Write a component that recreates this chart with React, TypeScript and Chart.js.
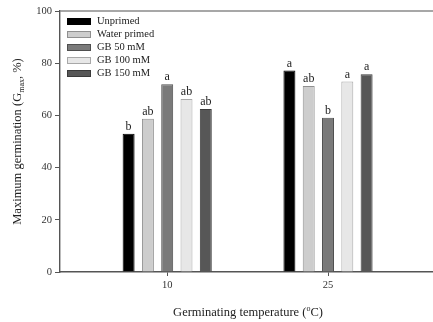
import React, { useEffect, useRef } from "react";
import { Chart, registerables } from "chart.js";

Chart.register(...registerables);

const temperatures = [10, 25];
const seriesNames = ["Unprimed", "Water primed", "GB 50 mM", "GB 100 mM", "GB 150 mM"];
const unprimed = [53.0, 77.2];
const waterPrimed = [58.7, 71.3];
const gb50 = [71.9, 59.1];
const gb100 = [66.3, 73.0];
const gb150 = [62.5, 75.8];
const lettersUnprimed = ["b", "a"];
const lettersWater = ["ab", "ab"];
const lettersGb50 = ["a", "b"];
const lettersGb100 = ["ab", "a"];
const lettersGb150 = ["ab", "a"];
const yTicks = [0, 20, 40, 60, 80, 100];

const fills = ["#000000", "#cdcdcd", "#7a7a7a", "#e7e7e7", "#575757"];
const borders = ["#000000", "#8f8f8f", "#4f4f4f", "#a8a8a8", "#3a3a3a"];
const FONT = '"Liberation Serif", "Times New Roman", serif';

const allValues = [unprimed, waterPrimed, gb50, gb100, gb150];
const allLetters = [lettersUnprimed, lettersWater, lettersGb50, lettersGb100, lettersGb150];

const decorPlugin = {
  id: "decor",
  beforeDatasetsDraw(chart: any) {
    const { ctx, chartArea } = chart;
    ctx.save();
    ctx.strokeStyle = "#8a8a8a";
    ctx.lineWidth = 1.6;
    ctx.beginPath();
    ctx.moveTo(chartArea.left, chartArea.top);
    ctx.lineTo(chart.width, chartArea.top);
    ctx.stroke();
    ctx.restore();
  },
  afterDatasetsDraw(chart: any) {
    const { ctx, chartArea } = chart;
    ctx.save();
    // letters above bars
    ctx.fillStyle = "#222";
    ctx.font = `12px ${FONT}`;
    ctx.textAlign = "center";
    ctx.textBaseline = "bottom";
    chart.data.datasets.forEach((ds: any, di: number) => {
      const meta = chart.getDatasetMeta(di);
      meta.data.forEach((el: any, i: number) => {
        ctx.fillText(allLetters[di][i], el.x, el.y - 1);
      });
    });
    // legend
    const lx = chartArea.left + 7;
    let ly = chartArea.top + 7;
    ctx.textAlign = "left";
    ctx.textBaseline = "middle";
    ctx.font = `10.5px ${FONT}`;
    seriesNames.forEach((name, i) => {
      ctx.fillStyle = fills[i];
      ctx.fillRect(lx, ly, 24, 7);
      ctx.strokeStyle = borders[i];
      ctx.lineWidth = 1;
      ctx.strokeRect(lx + 0.5, ly + 0.5, 23, 6);
      ctx.fillStyle = "#222";
      ctx.fillText(name, lx + 30, ly + 3.5);
      ly += 13;
    });
    // x title
    ctx.textBaseline = "alphabetic";
    const xa = "Germinating temperature (";
    const xb = "o";
    const xc = "C)";
    ctx.font = `12.5px ${FONT}`;
    const wa = ctx.measureText(xa).width;
    const wc = ctx.measureText(xc).width;
    ctx.font = `8px ${FONT}`;
    const wb = ctx.measureText(xb).width;
    const total = wa + wb + wc;
    let cx = (chartArea.left + chartArea.right) / 2 - total / 2 + 2;
    const by = 316;
    ctx.font = `12.5px ${FONT}`;
    ctx.fillText(xa, cx, by);
    cx += wa;
    ctx.font = `8px ${FONT}`;
    ctx.fillText(xb, cx, by - 5);
    cx += wb;
    ctx.font = `12.5px ${FONT}`;
    ctx.fillText(xc, cx, by);
    // y title
    ctx.translate(21, (chartArea.top + chartArea.bottom) / 2);
    ctx.rotate(-Math.PI / 2);
    const ya = "Maximum germination (G";
    const yb = "max";
    const yc = ", %)";
    ctx.font = `12.5px ${FONT}`;
    const wya = ctx.measureText(ya).width;
    const wyc = ctx.measureText(yc).width;
    ctx.font = `8px ${FONT}`;
    const wyb = ctx.measureText(yb).width;
    let tx = -(wya + wyb + wyc) / 2;
    ctx.font = `12.5px ${FONT}`;
    ctx.fillText(ya, tx, 0);
    tx += wya;
    ctx.font = `8px ${FONT}`;
    ctx.fillText(yb, tx, 3);
    tx += wyb;
    ctx.font = `12.5px ${FONT}`;
    ctx.fillText(yc, tx, 0);
    ctx.restore();
  },
};

export default function App() {
  const ref = useRef<HTMLCanvasElement | null>(null);
  useEffect(() => {
    if (!ref.current) return;
    const chart = new Chart(ref.current, {
      type: "bar",
      data: {
        datasets: seriesNames.map((name, i) => ({
          label: name,
          data: temperatures.map((t, j) => ({ x: t, y: allValues[i][j] })),
          backgroundColor: fills[i],
          borderColor: borders[i],
          borderWidth: 1,
          categoryPercentage: 0.6,
          barPercentage: 0.62,
        })),
      },
      options: {
        animation: false,
        responsive: false,
        devicePixelRatio: 1,
        layout: { padding: { top: 11, right: 1, left: 0, bottom: 0 } },
        plugins: { legend: { display: false }, tooltip: { enabled: false } },
        scales: {
          x: {
            type: "linear",
            min: 0,
            max: 34.7,
            offset: false,
            afterBuildTicks: (s: any) => {
              s.ticks = temperatures.map((v) => ({ value: v }));
            },
            afterFit: (s: any) => {
              s.height = 50;
            },
            grid: { display: true, drawOnChartArea: false, drawTicks: true, tickLength: 4, color: "#555", offset: false },
            border: { display: true, color: "#555", width: 1.4 },
            ticks: {
              color: "#333",
              font: { family: FONT, size: 10.5 },
              padding: 3,
              maxRotation: 0,
              callback: (v: any) => String(v),
            },
          },
          y: {
            type: "linear",
            min: 0,
            max: 100,
            afterBuildTicks: (s: any) => {
              s.ticks = yTicks.map((v) => ({ value: v }));
            },
            afterFit: (s: any) => {
              s.width = 60;
            },
            grid: { display: true, drawOnChartArea: false, drawTicks: true, tickLength: 5, color: "#555" },
            border: { display: true, color: "#555", width: 1.4 },
            ticks: {
              color: "#333",
              font: { family: FONT, size: 10.5 },
              padding: 3,
            },
          },
        },
      },
      plugins: [decorPlugin],
    } as any);
    return () => chart.destroy();
  }, []);
  return (
    <div style={{ position: "absolute", left: 0, top: 0, width: 433, height: 322, background: "#fff" }}>
      <canvas ref={ref} width={433} height={322} style={{ display: "block" }} />
    </div>
  );
}
